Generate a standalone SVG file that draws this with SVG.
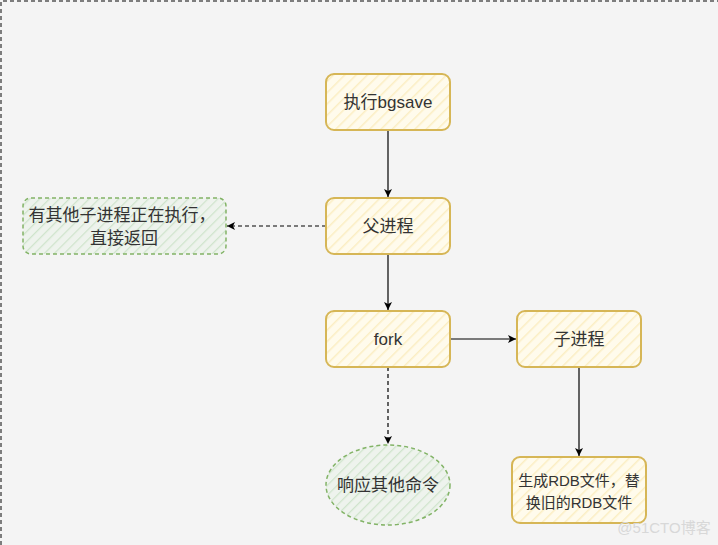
<svg xmlns="http://www.w3.org/2000/svg" width="718" height="545" viewBox="0 0 718 545">
<style>
text{font-family:"Liberation Sans","Noto Sans CJK SC",sans-serif;font-size:17px;fill:#333;text-anchor:middle;dominant-baseline:central}
.y{fill:url(#hy);stroke:#d6b656;stroke-width:2}
.g{fill:url(#hg);stroke:#82b366;stroke-width:1.5;stroke-dasharray:4 3}
.e{stroke:#000;stroke-width:1.2;fill:none}
.d{stroke-dasharray:4 3}
</style>
<defs>
<pattern id="hy" width="8" height="8" patternUnits="userSpaceOnUse" patternTransform="rotate(45)">
<rect width="8" height="8" fill="#fffbec"/><line x1="0" y1="0" x2="0" y2="8" stroke="#fbeec3" stroke-width="3"/>
</pattern>
<pattern id="hg" width="7" height="7" patternUnits="userSpaceOnUse" patternTransform="rotate(45)">
<rect width="7" height="7" fill="#eef3ed"/><line x1="0" y1="0" x2="0" y2="7" stroke="#cfe4cc" stroke-width="2.5"/>
</pattern>
<marker id="a" markerWidth="10" markerHeight="10" refX="9" refY="5" orient="auto" markerUnits="userSpaceOnUse">
<path d="M1,1 L9,5 L1,9 L3,5 z" fill="#000"/>
</marker>
</defs>
<rect width="718" height="545" fill="#f4f4f4"/>
<path d="M1,545 V1 H718" fill="none" stroke="#555" stroke-width="1.5" stroke-dasharray="4 3"/>
<g id="edges">
<line class="e" x1="388" y1="130" x2="388" y2="197" marker-end="url(#a)"/>
<line class="e d" x1="326" y1="226" x2="227" y2="226" marker-end="url(#a)"/>
<line class="e" x1="388" y1="254" x2="388" y2="310" marker-end="url(#a)"/>
<line class="e" x1="450" y1="339" x2="516" y2="339" marker-end="url(#a)"/>
<line class="e d" x1="388" y1="367" x2="388" y2="444" marker-end="url(#a)"/>
<line class="e" x1="579" y1="367" x2="579" y2="456" marker-end="url(#a)"/>
</g>
<g id="bgsave"><rect class="y" x="326" y="74" width="124" height="56" rx="8"/><text x="388" y="102">执行bgsave</text></g>
<g id="parent"><rect class="y" x="326" y="198" width="124" height="56" rx="8"/><text x="388" y="226">父进程</text></g>
<g id="fork"><rect class="y" x="326" y="311" width="124" height="56" rx="8"/><text x="388" y="339">fork</text></g>
<g id="child"><rect class="y" x="517" y="311" width="124" height="56" rx="8"/><text x="579" y="339">子进程</text></g>
<g id="other"><rect class="g" x="23" y="198" width="203" height="56" rx="8"/><text x="122" y="215">有其他子进程正在执行，</text><text x="124" y="238">直接返回</text></g>
<g id="respond"><ellipse class="g" cx="388" cy="485" rx="62" ry="40"/><text x="388" y="485">响应其他命令</text></g>
<g id="rdb"><rect class="y" x="512" y="457" width="134" height="66" rx="8"/><text x="579" y="480" style="font-size:15px">生成RDB文件，替</text><text x="579" y="502" style="font-size:15px">换旧的RDB文件</text></g>
<text x="664" y="527" style="font-size:15px;fill:#d8d8d8">@51CTO博客</text>
</svg>
